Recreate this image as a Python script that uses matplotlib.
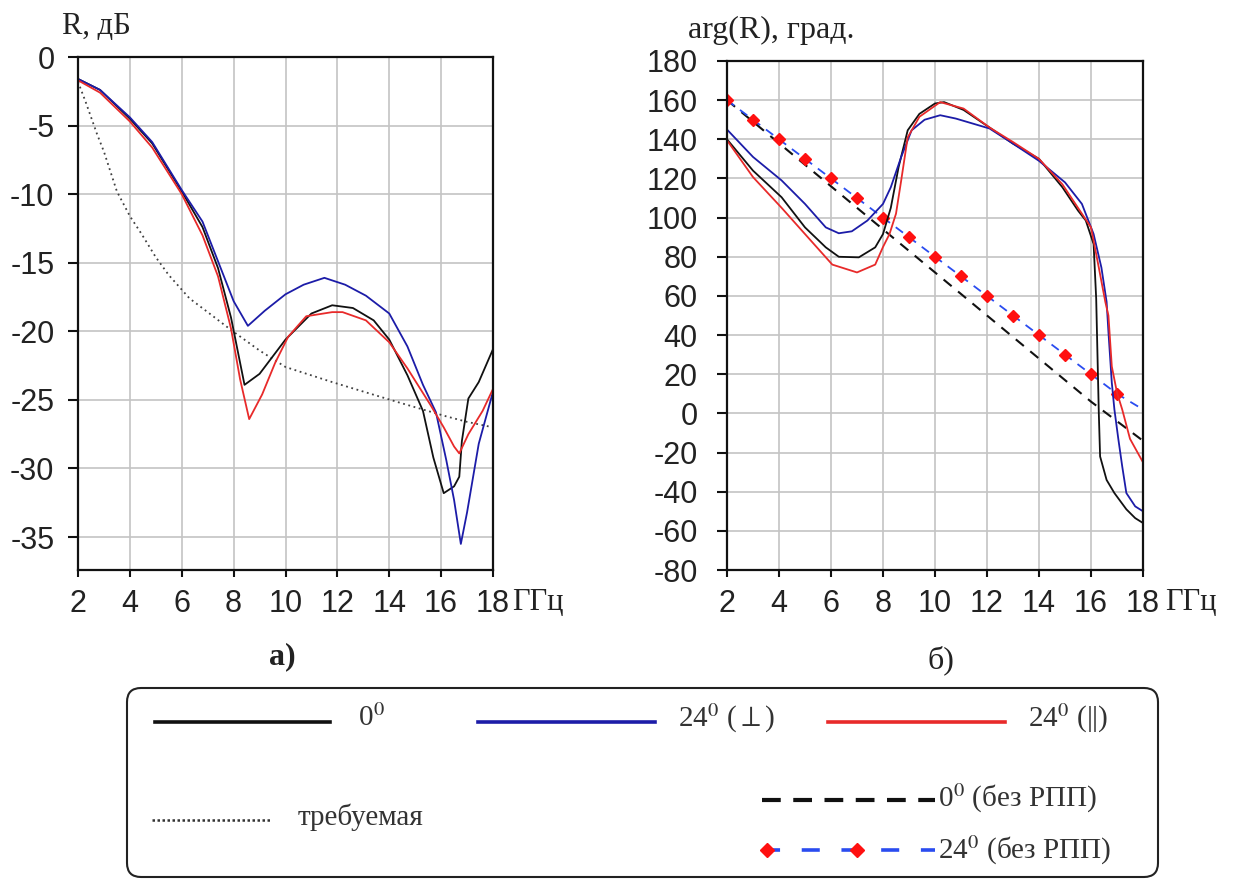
import matplotlib
matplotlib.use("Agg")
import matplotlib.pyplot as plt
from matplotlib.patches import FancyBboxPatch

plt.rcParams['font.family'] = ['Liberation Sans', 'DejaVu Sans']
plt.rcParams['axes.unicode_minus'] = False
plt.rcParams['mathtext.fontset'] = 'stix'

SERIF = ['Liberation Serif', 'DejaVu Serif']

# ── data: (a) reflection magnitude, dB ──────────────────────────
freq_ticks = [2, 4, 6, 8, 10, 12, 14, 16, 18]
db_ticks = [0, -5, -10, -15, -20, -25, -30, -35]
phase_ticks = [180, 160, 140, 120, 100, 80, 60, 40, 20, 0, -20, -40, -60, -80]

f_a0 = [2, 2.85, 4, 4.86, 6, 6.8, 7.4, 7.9, 8.42, 9.0, 10, 11, 11.8, 12.6, 13.4, 14,
        14.7, 15.3, 15.7, 16.1, 16.5, 16.7, 16.8, 17.05, 17.45, 18]
r_a0 = [-1.6, -2.4, -4.5, -6.3, -9.8, -12.4, -15.4, -19.0, -23.9, -23.1, -20.6, -18.7,
        -18.1, -18.3, -19.2, -20.6, -23.2, -25.8, -29.2, -31.8, -31.3, -30.6, -28.0,
        -24.9, -23.7, -21.3]

f_a24s = [2, 2.85, 4, 4.86, 6, 6.8, 7.4, 8.0, 8.55, 9.2, 10, 10.7, 11.5, 12.3, 13.1, 14,
          14.7, 15.3, 15.8, 16.2, 16.5, 16.76, 17.0, 17.45, 18]
r_a24s = [-1.6, -2.4, -4.4, -6.2, -9.7, -12.0, -14.9, -17.8, -19.6, -18.5, -17.3, -16.6,
          -16.1, -16.6, -17.4, -18.7, -21.1, -23.9, -25.9, -29.4, -32.3, -35.5, -33.2,
          -28.2, -24.4]

f_a24p = [2, 2.85, 4, 4.86, 6, 6.8, 7.4, 7.9, 8.25, 8.6, 9.1, 9.6, 10.1, 10.8, 11.8, 12.2,
          13.1, 14, 14.7, 15.6, 16.1, 16.5, 16.7, 17.05, 17.6, 18]
r_a24p = [-1.7, -2.6, -4.7, -6.6, -10.0, -13.0, -16.0, -19.8, -23.5, -26.4, -24.6, -22.3,
          -20.4, -18.9, -18.6, -18.6, -19.2, -20.8, -22.7, -25.4, -27.0, -28.4, -28.9,
          -27.5, -25.8, -24.2]

f_req = [2, 2.3, 2.73, 3.0, 3.5, 4.0, 4.45, 5.0, 5.5, 6.3, 7.0, 7.9, 9.0, 10, 11.8, 14.4,
         16.2, 17, 18]
r_req = [-1.8, -3.3, -5.6, -6.9, -9.8, -11.6, -12.9, -14.6, -15.9, -17.6, -18.6, -19.9,
         -21.4, -22.6, -23.7, -25.2, -26.2, -26.6, -27.0]

# ── data: (b) reflection phase, deg ──────────────────────────────
f_b0 = [2, 3.0, 4.1, 5.0, 5.8, 6.3, 7.07, 7.7, 8.0, 8.3, 8.6, 8.95, 9.4, 10.0, 10.35, 11.1,
        12.1, 13.0, 14.0, 14.9, 15.5, 15.8, 16.1, 16.2, 16.3, 16.35, 16.6, 16.9, 17.36,
        17.7, 18]
p_b0 = [140, 124, 110.4, 95, 84.8, 80, 79.7, 84.8, 91.6, 105, 125.8, 144.6, 153, 158.3,
        159, 155, 146, 137.8, 130, 115.5, 103.6, 98.5, 86.5, 58.5, 0.3, -22, -34, -40.7,
        -49, -53.5, -56]

f_b24s = [2, 3.0, 4.1, 5.0, 5.8, 6.3, 6.8, 7.4, 8.0, 8.3, 8.7, 9.1, 9.6, 10.2, 10.8, 12.1,
          13.0, 14.0, 15.0, 15.65, 16.1, 16.4, 16.6, 16.67, 16.8, 16.9, 17.05, 17.2, 17.36,
          17.7, 18]
p_b24s = [145, 131, 119, 107, 95, 92, 93, 98.5, 107, 115.5, 131, 144.6, 150, 152.3, 150.6,
          145.5, 137.8, 129, 118, 107, 91.6, 74.5, 57, 41.7, 15.7, 2, -13, -27, -40.7,
          -47.5, -50]

f_b24p = [2, 3.0, 4.1, 5.0, 6.05, 7.0, 7.7, 8.0, 8.25, 8.5, 8.7, 8.95, 9.4, 10.2, 11.1,
          12.1, 13.0, 14.0, 14.9, 15.5, 16.0, 16.3, 16.55, 16.67, 16.8, 17.0, 17.2, 17.5, 18]
p_b24p = [139.5, 120.7, 105, 91.6, 76, 72, 76, 85, 91.6, 102, 119, 141, 151.5, 159, 155.7,
          146, 138.6, 130, 117, 105, 95, 74.5, 57, 50, 24, 10.6, 2, -13, -25]

f_bare0 = [2, 4, 6, 8, 10, 12, 14, 15, 16, 16.3, 17, 18]
p_bare0 = [160, 138, 116, 94, 72, 50, 28, 17, 6, 3, -4, -14]

f_bare24 = [2, 3, 4, 5, 6, 7, 8, 9, 10, 11, 12, 13, 14, 15, 16, 17, 18]
p_bare24 = [160, 150, 140, 130, 120, 110, 100, 90, 80, 70, 60, 50, 40, 30, 20, 10, 2]

C_BLACK = '#111111'
C_BLUE = '#1c1ca8'
C_RED = '#e82a2a'
C_DASHBLUE = '#2a4cf0'
C_MARK = '#ff1010'

fig = plt.figure(figsize=(12.36, 8.81), dpi=100)
W, H = 1236, 881


def px_axes(x0, y0, x1, y1):
    return fig.add_axes([x0 / W, 1 - y1 / H, (x1 - x0) / W, (y1 - y0) / H])


def style(ax, ypad):
    ax.grid(True, color='#c4c4c4', linewidth=1.2)
    ax.set_axisbelow(True)
    for s in ax.spines.values():
        s.set_linewidth(1.6)
        s.set_color('#111111')
    ax.tick_params(direction='out', width=1.5, labelsize=22, colors='#111111',
                   labelcolor='#222222')
    ax.tick_params(axis='x', length=5, pad=9)
    ax.tick_params(axis='y', length=7, pad=ypad)


# --- panel a ---
ax1 = px_axes(78, 57, 493, 570)
ax1.plot(f_req, r_req, color='#404040', linestyle=(0, (1, 2)), linewidth=1.3)
ax1.plot(f_a0, r_a0, color=C_BLACK, linewidth=1.3)
ax1.plot(f_a24s, r_a24s, color=C_BLUE, linewidth=1.3)
ax1.plot(f_a24p, r_a24p, color=C_RED, linewidth=1.3)
ax1.set_xlim(2, 18)
ax1.set_ylim(-37.4, 0)
ax1.set_xticks(freq_ticks)
ax1.set_yticks(db_ticks)
style(ax1, 10)

# --- panel b ---
ax2 = px_axes(727, 61, 1143, 570)
ax2.plot(f_bare0, p_bare0, color=C_BLACK, linestyle=(0, (5, 4)), linewidth=1.5)
ax2.plot(f_bare24, p_bare24, color=C_DASHBLUE, linestyle=(0, (5, 4)), linewidth=1.3,
         marker='D', markersize=6, markerfacecolor=C_MARK, markeredgecolor=C_MARK,
         markevery=list(range(16)))
ax2.plot(f_b0, p_b0, color=C_BLACK, linewidth=1.3)
ax2.plot(f_b24s, p_b24s, color=C_BLUE, linewidth=1.3)
ax2.plot(f_b24p, p_b24p, color=C_RED, linewidth=1.3)
ax2.set_xlim(2, 18)
ax2.set_ylim(-80, 180)
ax2.set_xticks(freq_ticks)
ax2.set_yticks(phase_ticks)
style(ax2, 14)

# --- axis captions ---
cap_kw = dict(family=SERIF, color='#222222', va='center')
fig.text(62 / W, 1 - 26 / H, 'R, дБ', fontsize=22, ha='left', **cap_kw)
fig.text(688 / W, 1 - 30 / H, 'arg(R), град.', fontsize=23, ha='left', **cap_kw)
fig.text(512 / W, 1 - 602 / H, 'ГГц', fontsize=22, ha='left', **cap_kw)
fig.text(1165 / W, 1 - 602 / H, 'ГГц', fontsize=22, ha='left', **cap_kw)
fig.text(282 / W, 1 - 657 / H, 'а)', fontsize=23, fontweight='bold', ha='center', **cap_kw)
fig.text(941 / W, 1 - 660 / H, 'б)', fontsize=23, ha='center', **cap_kw)

# --- legend block ---
lax = fig.add_axes([0, 0, 1, 1], facecolor='none')
lax.set_xlim(0, W)
lax.set_ylim(H, 0)
lax.axis('off')
lax.add_patch(FancyBboxPatch((127, 688), 1031, 189, boxstyle='round,pad=0,rounding_size=14',
                             facecolor='white', edgecolor='#222222', linewidth=1.5))
lax.plot([155, 330], [722, 722], color=C_BLACK, linewidth=2.6)
lax.plot([478, 655], [722, 722], color=C_BLUE, linewidth=2.6)
lax.plot([828, 1005], [722, 722], color=C_RED, linewidth=2.6)
lax.plot([152, 272], [820, 820], color='#333333', linestyle=(0, (1, 1)), linewidth=1.8)
lax.plot([762, 935], [800, 800], color=C_BLACK, linestyle=(0, (4.5, 3)), linewidth=3)
lax.plot([762, 935], [850, 850], color=C_DASHBLUE, linestyle=(0, (5, 6)), linewidth=2.6)
lax.plot([767, 857], [850, 850], linestyle='none', marker='D', markersize=7,
         color=C_MARK)

leg_kw = dict(family=SERIF, fontsize=21, va='center', ha='left', color='#333333')
lax.text(358, 718, '0$^{0}$', **leg_kw)
lax.text(678, 718, '24$^{0}$ ($\\perp$)', **leg_kw)
lax.text(1028, 718, '24$^{0}$ (||)', **leg_kw)
lax.text(298, 817, 'требуемая', **leg_kw)
lax.text(938, 798, '0$^{0}$ (без РПП)', **leg_kw)
lax.text(938, 850, '24$^{0}$ (без РПП)', **leg_kw)

fig.savefig('out.png', dpi=100)
